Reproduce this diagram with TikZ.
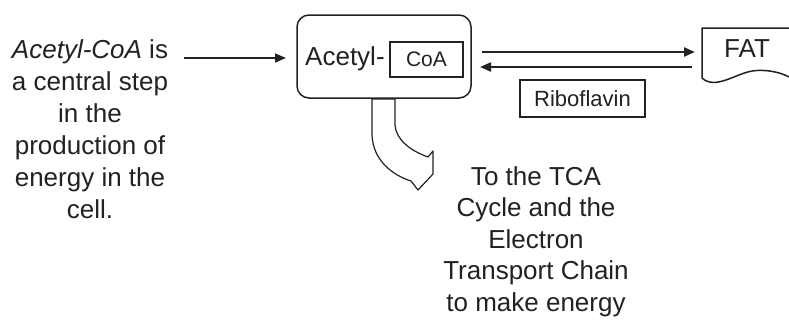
\documentclass[tikz,border=0pt]{standalone}
\usepackage{fontspec}
\setmainfont{Liberation Sans}
\usetikzlibrary{arrows.meta}
\definecolor{ink}{HTML}{222222}
\tikzset{
  txt/.style={inner sep=0pt, text=ink, align=center},
  boxline/.style={draw=ink, line width=1.5pt},
  conn/.style={draw=ink, line width=2.2pt, -{Triangle[length=11pt,width=9pt]}},
  thinconn/.style={draw=ink, line width=1.6pt, -{Triangle[length=11pt,width=9pt]}}
}
\begin{document}
\begin{tikzpicture}[x=1pt,y=-1pt]
\useasboundingbox[fill=white] (0,0) rectangle (789,322);
% left explanatory text
\node[txt, anchor=north, font=\fontsize{26}{32}\selectfont] (intro) at (90,39)
  {\textit{Acetyl-CoA} is\\a central step\\in the\\production of\\energy in the\\cell.};
% Acetyl-CoA box
\node[boxline, rounded corners=12pt, minimum width=174pt, minimum height=83pt, inner sep=0pt] (acetyl) at (384,56.5) {};
\node[txt, anchor=base west, font=\fontsize{26}{30}\selectfont] (acetyltxt) at (305,65) {Acetyl-};
\node[boxline, minimum width=73pt, minimum height=35pt, inner sep=0pt, text=ink, font=\fontsize{21}{24}\selectfont] (coa) at (426.5,59.5) {CoA};
% riboflavin
\node[boxline, minimum width=125pt, minimum height=37pt, inner sep=0pt, text=ink, font=\fontsize{22}{26}\selectfont] (ribo) at (582.5,98.5) {Riboflavin};
% FAT document shape
\draw[boxline] (789,28) -- (702,28) -- (702,78)
  .. controls (715,90) and (735,74) .. (752,71)
  .. controls (765,69) and (780,72) .. (789,77);
\node[txt, font=\fontsize{26}{30}\selectfont] (fat) at (747,49) {FAT};
% connectors
\coordinate (introR) at (184,58);
\coordinate (acetylL) at (286,58);
\draw[thinconn] (introR) -- (acetylL);
\coordinate (upA) at (482,52);
\coordinate (upF) at (695,52);
\coordinate (loA) at (480,67);
\coordinate (loF) at (692,67);
\draw[conn] (upA) -- (upF);
\draw[conn] (loF) -- (loA);
% curved block arrow
\draw[draw=ink, line width=1.2pt, fill=white, line join=round]
  (372,99) -- (372,135)
  .. controls (373,160) and (392,175) .. (411,181)
  -- (418,190) -- (433,174) -- (433,151) -- (428,157)
  .. controls (411,151) and (396,140) .. (395,125)
  -- (395,99) -- cycle;
% right text
\node[txt, anchor=north, font=\fontsize{26}{31.5}\selectfont] (tca) at (536,166)
  {To the TCA\\Cycle and the\\Electron\\Transport Chain\\to make energy};
\end{tikzpicture}
\end{document}
